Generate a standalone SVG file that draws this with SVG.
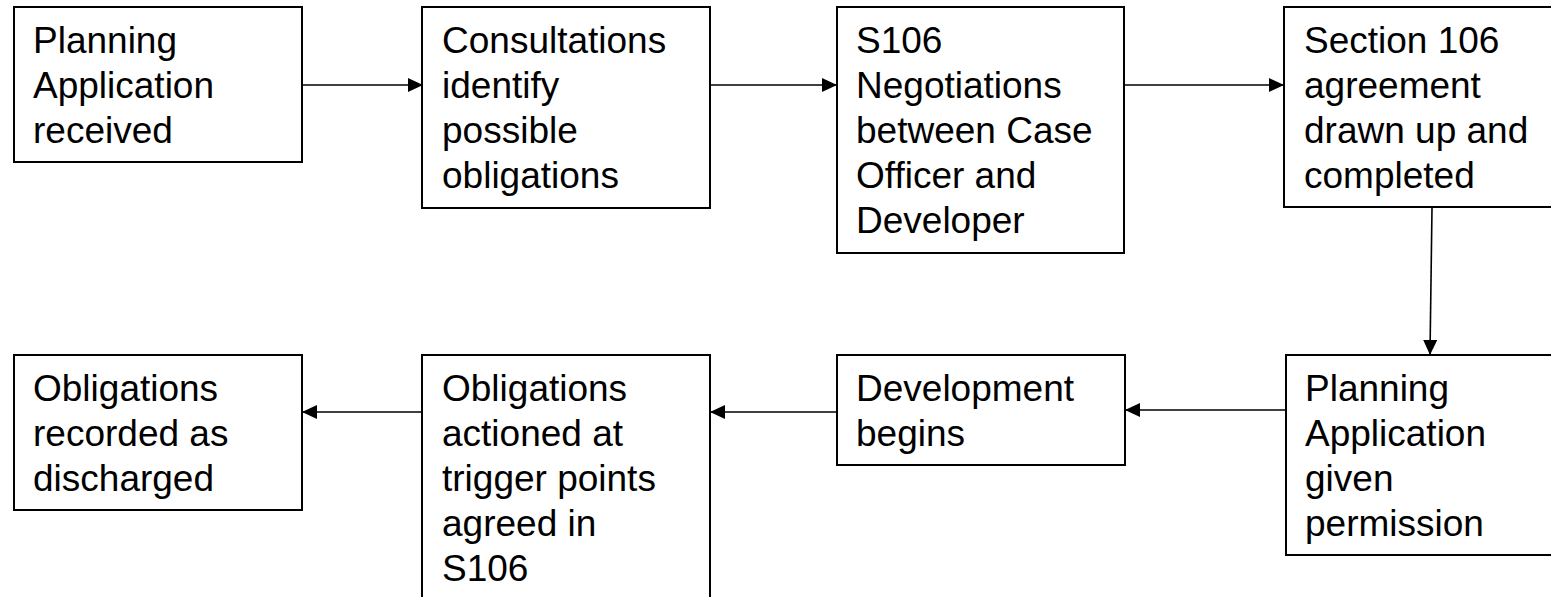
<svg xmlns="http://www.w3.org/2000/svg" width="1551" height="597" viewBox="0 0 1551 597">
<style>
.box{fill:#fff;stroke:#000;stroke-width:2}
.t{font-family:"Liberation Sans",Arial,sans-serif;font-size:37px;fill:#000}
.c{stroke:#000;stroke-width:1.6;fill:none;marker-end:url(#ah)}
</style>
<defs>
<marker id="ah" markerWidth="15" markerHeight="14" refX="14" refY="7" orient="auto" markerUnits="userSpaceOnUse">
<path d="M0,0 L15,7 L0,14 Z" fill="#000"/>
</marker>
</defs>
<rect width="1551" height="597" fill="#fff"/>
<g id="connectors">
<line class="c" x1="302" y1="85" x2="422" y2="85"/>
<line class="c" x1="710" y1="85" x2="836" y2="85"/>
<line class="c" x1="1124" y1="85" x2="1283" y2="85"/>
<line class="c" x1="1432" y1="208" x2="1430" y2="354"/>
<line class="c" x1="1286" y1="410" x2="1126" y2="410"/>
<line class="c" x1="837" y1="412" x2="711" y2="412"/>
<line class="c" x1="422" y1="412" x2="303" y2="412"/>
</g>
<g id="n1">
<rect class="box" x="14" y="7" width="288" height="155"/>
<text class="t" x="33" y="53">Planning</text>
<text class="t" x="33" y="98">Application</text>
<text class="t" x="33" y="143">received</text>
</g>
<g id="n2">
<rect class="box" x="422" y="7" width="288" height="201"/>
<text class="t" x="442" y="53">Consultations</text>
<text class="t" x="442" y="98">identify</text>
<text class="t" x="442" y="143">possible</text>
<text class="t" x="442" y="188">obligations</text>
</g>
<g id="n3">
<rect class="box" x="837" y="7" width="287" height="246"/>
<text class="t" x="856" y="53">S106</text>
<text class="t" x="856" y="98">Negotiations</text>
<text class="t" x="856" y="143">between Case</text>
<text class="t" x="856" y="188">Officer and</text>
<text class="t" x="856" y="233">Developer</text>
</g>
<g id="n4">
<rect class="box" x="1284" y="7" width="280" height="200"/>
<text class="t" x="1304" y="53">Section 106</text>
<text class="t" x="1304" y="98">agreement</text>
<text class="t" x="1304" y="143">drawn up and</text>
<text class="t" x="1304" y="188">completed</text>
</g>
<g id="n5">
<rect class="box" x="1286" y="355" width="280" height="200"/>
<text class="t" x="1305" y="401">Planning</text>
<text class="t" x="1305" y="446">Application</text>
<text class="t" x="1305" y="491">given</text>
<text class="t" x="1305" y="536">permission</text>
</g>
<g id="n6">
<rect class="box" x="837" y="355" width="288" height="110"/>
<text class="t" x="856" y="401">Development</text>
<text class="t" x="856" y="446">begins</text>
</g>
<g id="n7">
<rect class="box" x="422" y="355" width="288" height="260"/>
<text class="t" x="442" y="401">Obligations</text>
<text class="t" x="442" y="446">actioned at</text>
<text class="t" x="442" y="491">trigger points</text>
<text class="t" x="442" y="536">agreed in</text>
<text class="t" x="442" y="581">S106</text>
</g>
<g id="n8">
<rect class="box" x="14" y="355" width="288" height="155"/>
<text class="t" x="33" y="401">Obligations</text>
<text class="t" x="33" y="446">recorded as</text>
<text class="t" x="33" y="491">discharged</text>
</g>
</svg>
